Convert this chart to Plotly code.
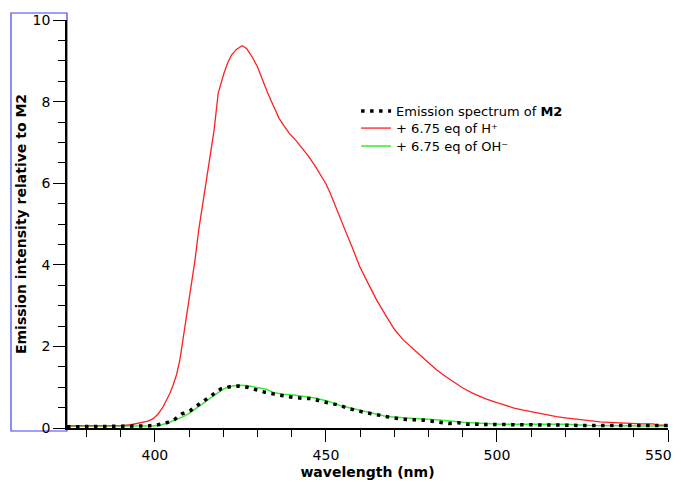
import plotly.graph_objects as go

# Emission spectrum of M2 (black dotted)
wl_m2 = [374.3, 380, 385, 390, 395, 398, 400.3, 402.9, 405.6, 407.8, 410.2, 412.5, 414.6, 417, 419.3,
         421.9, 424.3, 427, 429.7, 432.4, 434.9, 437.5, 440.4, 443.1, 445.8, 448.4, 451.2, 453.9,
         456.5, 459, 461.4, 464.1, 466.7, 469.5, 472.1, 474.8, 477.8, 480.4, 483.3, 486, 488.7,
         491.4, 494.2, 496.9, 499.6, 505, 510, 515, 520, 525, 530, 535, 540, 545, 550]
int_m2 = [0.03, 0.03, 0.03, 0.03, 0.04, 0.05, 0.07, 0.11, 0.2, 0.34, 0.42, 0.56, 0.7, 0.83, 0.96,
          1.01, 1.03, 1.0, 0.93, 0.87, 0.83, 0.79, 0.75, 0.73, 0.72, 0.66, 0.6, 0.56,
          0.48, 0.42, 0.38, 0.34, 0.29, 0.25, 0.22, 0.2, 0.2, 0.17, 0.15, 0.11, 0.13,
          0.09, 0.09, 0.09, 0.09, 0.08, 0.08, 0.08, 0.07, 0.06, 0.06, 0.06, 0.06, 0.06, 0.06]

# + 6.75 eq of H+ (red)
wl_h = [374.3, 380, 385, 390, 393, 395.6, 398, 399.5, 401, 402.4, 403.5, 404.4, 405.3, 406.3, 407.3,
        408.3, 409.3, 410.5, 411.7, 412.8, 414, 415.3, 416.3, 417.3, 418.5, 420.2, 421.3, 422.4,
        423.8, 425.5, 426.8, 428.4, 430, 431.4, 432.8, 434.3, 436.3, 437.8, 439.3, 441.2, 443.1,
        445, 447, 448.5, 449.9, 451.3, 452.9, 455.6, 458, 459.9, 462.3, 464.8, 467.7, 470, 472.6,
        475, 477.5, 480, 482.4, 485, 487.2, 490, 493, 496.9, 500, 502.8, 505, 507.7, 510, 512.6,
        515, 517.4, 520, 523.3, 527, 530.1, 534, 537.9, 542, 545.7, 546.6, 550]
int_h = [0.05, 0.05, 0.05, 0.06, 0.08, 0.12, 0.17, 0.23, 0.35, 0.52, 0.7, 0.85, 1.05, 1.3, 1.67,
         2.2, 2.8, 3.4, 4.1, 4.85, 5.5, 6.16, 6.8, 7.3, 8.2, 8.7, 8.95, 9.14,
         9.28, 9.37, 9.3, 9.1, 8.85, 8.53, 8.25, 7.96, 7.59, 7.4, 7.22, 7.05, 6.86,
         6.65, 6.4, 6.2, 6.0, 5.75, 5.4, 4.85, 4.36, 3.95, 3.55, 3.14, 2.73, 2.42, 2.16,
         1.97, 1.79, 1.6, 1.42, 1.26, 1.13, 0.98, 0.85, 0.71, 0.62, 0.54, 0.49, 0.44, 0.4, 0.36,
         0.32, 0.28, 0.25, 0.21, 0.18, 0.15, 0.13, 0.11, 0.1, 0.1, 0.07, 0.07]

# + 6.75 eq of OH- (green)
wl_oh = [374.3, 380, 385, 390, 395, 399.5, 402, 404, 406, 408.3, 410, 412, 414.1, 416, 418, 419.5,
         421.4, 424.3, 426.8, 429.7, 432.6, 434.6, 437.5, 440.5, 443.4, 447.3, 449.5, 451.2, 454.1,
         458, 462.9, 467.7, 474.6, 482.4, 490.1, 496.9, 500.9, 510, 520, 527, 535, 545, 550]
int_oh = [0.05, 0.05, 0.05, 0.04, 0.04, 0.05, 0.08, 0.13, 0.2, 0.28, 0.36, 0.48, 0.6, 0.72, 0.85, 0.93,
          1.01, 1.05, 1.04, 1.0, 0.95, 0.87, 0.83, 0.81, 0.78, 0.73, 0.68, 0.64, 0.55,
          0.47, 0.36, 0.28, 0.24, 0.2, 0.14, 0.1, 0.09, 0.09, 0.09, 0.06, 0.05, 0.05, 0.05]

names = ["Emission spectrum of <b>M2</b>", "+ 6.75 eq of H⁺", "+ 6.75 eq of OH⁻"]

x_tickvals = [400, 450, 500, 550]
x_ticktext = ["400", "450", "500", "550"]

FONT = "DejaVu Sans"

fig = go.Figure()
fig.add_trace(go.Scatter(x=wl_oh, y=int_oh, mode="lines", name=names[2], legend="legend3",
                         line=dict(color="#33ee33", width=1.5)))
fig.add_trace(go.Scatter(x=wl_h, y=int_h, mode="lines", name=names[1], legend="legend2",
                         line=dict(color="#ff2020", width=1.3)))
fig.add_trace(go.Scatter(x=wl_m2, y=int_m2, mode="lines", name=names[0], legend="legend",
                         line=dict(color="black", width=3.5, dash="3.5px,5.5px")))

leg_common = dict(x=0.481, xanchor="left", yanchor="middle", bgcolor="rgba(0,0,0,0)",
                  font=dict(family=FONT, size=13), itemwidth=30)

# page body has an 8px margin, so the figure is sized/placed to account for it
fig.update_layout(
    width=665, height=474,
    margin=dict(l=59, r=5, t=12, b=54),
    paper_bgcolor="white", plot_bgcolor="white",
    font=dict(family=FONT, size=13, color="black"),
    showlegend=True,
    legend=dict(y=0.777, **leg_common),
    legend2=dict(y=0.735, **leg_common),
    legend3=dict(y=0.691, **leg_common),
    xaxis=dict(range=[374.3, 550], tickvals=x_tickvals,
               ticktext=x_ticktext[:-1] + [""],
               showgrid=False, zeroline=False,
               automargin=False, ticklabeloverflow="allow",
               showline=True, linecolor="black", linewidth=1.5,
               ticks="outside", ticklen=12, tickwidth=1.3, tickcolor="black",
               ticklabelstandoff=1, tickfont=dict(size=14),
               minor=dict(dtick=10, tick0=400, ticks="outside", ticklen=7, tickwidth=1.3,
                          tickcolor="black", showgrid=False),
               title=dict(text="<b>wavelength (nm)</b>", font=dict(size=14), standoff=6)),
    yaxis=dict(range=[0, 10], tick0=0, dtick=2, showgrid=False, zeroline=False,
               automargin=False,
               showline=True, linecolor="black", linewidth=1.5,
               ticks="outside", ticklen=12, tickwidth=1.3, tickcolor="black",
               ticklabelstandoff=0, tickfont=dict(size=14),
               minor=dict(dtick=0.5, tick0=0, ticks="outside", ticklen=7, tickwidth=1.3,
                          tickcolor="black", showgrid=False),
               title=dict(text="<b>Emission intensity relative to M2</b>", font=dict(size=14),
                          standoff=3)),
    annotations=[dict(text=x_ticktext[-1], x=x_tickvals[-1], xref="x", y=0, yref="paper",
                      xanchor="right", yanchor="top", yshift=-17, xshift=6, showarrow=False,
                      font=dict(family=FONT, size=14, color="black"))],
    shapes=[dict(type="rect", xref="paper", yref="paper",
                 x0=-0.0932, x1=0.0, y0=-0.0074, y1=1.0172,
                 line=dict(color="#4040ff", width=1.2), fillcolor="rgba(0,0,0,0)", layer="below")],
)

fig.write_html("out.html")
